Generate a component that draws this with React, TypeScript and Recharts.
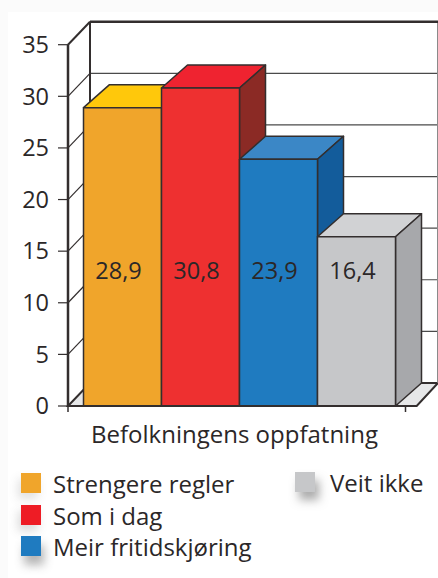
import { BarChart, Bar, XAxis, YAxis, CartesianGrid, LabelList, Legend } from "recharts"

const CATEGORIES = ["Befolkningens oppfatning"]
const SERIES_NAMES = ["Strengere regler", "Som i dag", "Meir fritidskjøring", "Veit ikke"]
const SERIES_VALUES = [28.9, 30.8, 23.9, 16.4]
const Y_TICKS = [0, 5, 10, 15, 20, 25, 30, 35]

const FRONT_COLORS = ["#f0a52b", "#ee3030", "#1f7bc0", "#c6c7c9"]
const TOP_COLORS = ["#ffc80b", "#ef2330", "#3b87c6", "#d1d2d4"]
const SIDE_COLORS = ["#b5791c", "#8b2a25", "#135c9b", "#a7a8ab"]
const LEGEND_COLORS = ["#f0a52b", "#ee1c25", "#1f7bc0", "#c6c7c9"]

const data = CATEGORIES.map((name) => {
  const row: Record<string, string | number> = { name }
  SERIES_NAMES.forEach((s, i) => (row[s] = SERIES_VALUES[i]))
  return row
})

const FONT = "'Open Sans', sans-serif"
const INK = "#2b2728"
const LINE = "#332e2e"
const DX = 26
const DY = 23
const WALL_DX = 22
const WALL_DY = 23

// 3D box: front face from the scale, top and side faces pushed back
function box3d(i: number) {
  return (props: any) => {
    const { x, y, width, height } = props
    const r = x + width
    const b = y + height
    return (
      <g stroke={LINE} strokeWidth={1.5} strokeLinejoin="round">
        <polygon points={`${x},${y} ${x + DX},${y - DY} ${r + DX},${y - DY} ${r},${y}`} fill={TOP_COLORS[i]} />
        <polygon points={`${r},${y} ${r + DX},${y - DY} ${r + DX},${b - DY} ${r},${b}`} fill={SIDE_COLORS[i]} />
        <rect x={x} y={y} width={width} height={height} fill={FRONT_COLORS[i]} />
      </g>
    )
  }
}

// every bar label sits at the same height above the floor
function valueLabel(props: any) {
  const { x, y, width, height, value } = props
  return (
    <text x={x + width / 2 - 4} y={y + height - 127} textAnchor="middle" fontSize={23.5} fontFamily={FONT} fill={INK}>
      {String(value).replace(".", ",")}
    </text>
  )
}

// wall lines behind the bars, one per y tick
function wallLine(props: any) {
  const { x1, x2, y1 } = props
  const backX = x1 + WALL_DX
  const backY = y1 - WALL_DY
  const isFloor = y1 > 400
  const isTop = y1 < 50
  return (
    <g>
      {isFloor && (
        <polygon
          points={`${x1},${y1} ${backX},${backY} 438,${backY} ${x2},${y1}`}
          fill="#e6e7e8"
          stroke={LINE}
          strokeWidth={2}
        />
      )}
      {isTop && <line x1={backX} y1={backY} x2={backX} y2={backY + 361} stroke={LINE} strokeWidth={2} />}
      {isTop && <line x1={437.5} y1={backY} x2={437.5} y2={backY + 361} stroke="#8a8a8a" strokeWidth={1} />}
      {!isFloor && <line x1={x1} y1={y1} x2={backX} y2={backY} stroke={LINE} strokeWidth={isTop ? 2 : 1.2} />}
      {!isFloor && <line x1={backX} y1={backY} x2={438} y2={backY} stroke={isTop ? LINE : "#4a4a4a"} strokeWidth={isTop ? 2.5 : 1.2} />}
    </g>
  )
}

function categoryTick(props: any) {
  const { x, y, payload } = props
  return (
    <g>
      <line x1={68} y1={y - 9} x2={68} y2={y - 2} stroke={LINE} strokeWidth={1.5} />
      <line x1={x + 167} y1={y - 9} x2={x + 167} y2={y - 2} stroke={LINE} strokeWidth={1.5} />
      <text x={x - 4} y={y + 29} textAnchor="middle" fontSize={24} fontFamily={FONT} fill={INK}>
        {payload.value}
      </text>
    </g>
  )
}

const LEGEND_SPOTS = [
  { left: 21, top: 473, textLeft: 53, shadow: "-3px 6px 10px rgba(90,90,90,0.18)" },
  { left: 21, top: 505, textLeft: 53, shadow: "-3px 6px 10px rgba(90,90,90,0.22)" },
  { left: 21, top: 536, textLeft: 53, shadow: "3px 9px 10px rgba(90,90,90,0.45)" },
  { left: 295, top: 472, textLeft: 330, shadow: "4px 8px 10px rgba(90,90,90,0.5)" },
]

function legendContent({ payload }: any) {
  return (
    <div>
      {(payload || []).map((item: any, i: number) => (
        <div key={item.value}>
          <span
            style={{
              position: "absolute",
              left: LEGEND_SPOTS[i].left,
              top: LEGEND_SPOTS[i].top,
              width: 20,
              height: 20,
              background: LEGEND_COLORS[i],
              boxShadow: LEGEND_SPOTS[i].shadow,
            }}
          />
          <span
            style={{
              position: "absolute",
              left: LEGEND_SPOTS[i].textLeft,
              top: LEGEND_SPOTS[i].top - 4,
              fontSize: 24,
              lineHeight: "30px",
              fontFamily: FONT,
              color: INK,
              whiteSpace: "nowrap",
            }}
          >
            {item.value}
          </span>
        </div>
      ))}
    </div>
  )
}

export default function App() {
  return (
    <div style={{ position: "fixed", left: 0, top: 0, width: 438, height: 578, background: "#fbfbfb", overflow: "hidden" }}>
      <div style={{ position: "absolute", left: 8, top: 12, width: 430, height: 566, background: "#fff" }} />
      <BarChart
        width={438}
        height={578}
        data={data}
        margin={{ top: 44.7, right: 21.3, bottom: 0, left: 0 }}
        barCategoryGap={0}
        barGap={0}
      >
        <CartesianGrid vertical={false} horizontal={wallLine} horizontalValues={Y_TICKS} />
        <XAxis
          dataKey="name"
          height={172}
          padding={{ left: 15.5, right: 23.2 }}
          tick={categoryTick}
          tickLine={false}
          axisLine={{ stroke: LINE, strokeWidth: 2 }}
          interval={0}
        />
        <YAxis
          width={68}
          domain={[0, 35]}
          ticks={Y_TICKS}
          interval={0}
          tickSize={10}
          tickMargin={9}
          tickLine={{ stroke: LINE, strokeWidth: 1.2 }}
          axisLine={{ stroke: LINE, strokeWidth: 2.5 }}
          tick={{ fontSize: 23.5, fontFamily: FONT, fill: INK }}
        />
        <Legend content={legendContent} itemSorter={null} wrapperStyle={{ position: "absolute", left: 0, top: 0 }} />
        {SERIES_NAMES.map((s, i) => (
          <Bar key={s} dataKey={s} fill={LEGEND_COLORS[i]} shape={box3d(i)} isAnimationActive={false}>
            <LabelList dataKey={s} content={valueLabel} />
          </Bar>
        ))}
      </BarChart>
    </div>
  )
}
